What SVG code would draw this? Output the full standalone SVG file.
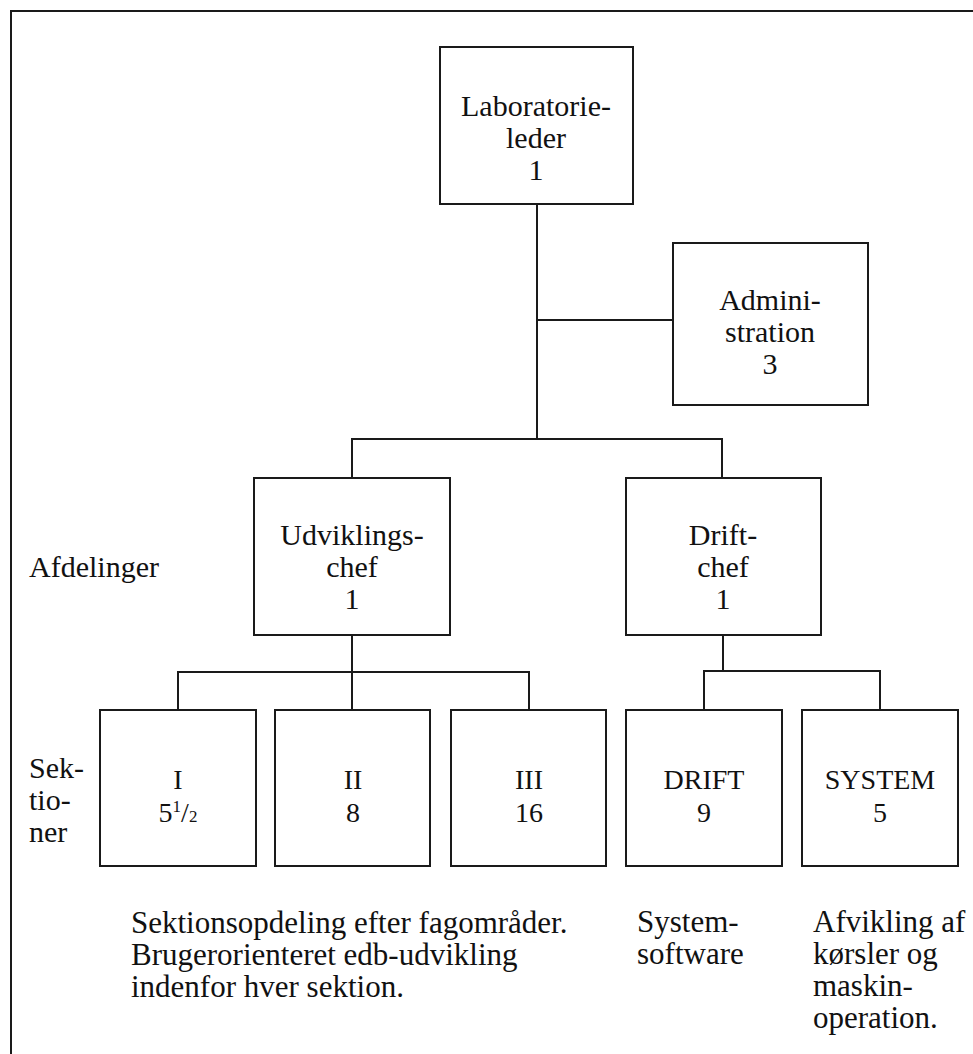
<svg xmlns="http://www.w3.org/2000/svg" width="973" height="1054" viewBox="0 0 973 1054">
<style>
  .frame { fill: none; stroke: #1a1a1a; stroke-width: 2; }
  .box { fill: #ffffff; stroke: #1a1a1a; stroke-width: 2; }
  .line { fill: none; stroke: #1a1a1a; stroke-width: 2; }
  text { font-family: "Liberation Serif", "Times New Roman", serif; fill: #111111; }
  .t { font-size: 30px; text-anchor: middle; }
  .c { font-size: 28px; text-anchor: middle; }
  .l { font-size: 30px; }
  .n { font-size: 31px; }
</style>
<rect width="973" height="1054" fill="#ffffff"/>
<path class="frame" d="M 11 1054 L 11 11 L 973 11"/>

<g id="connectors">
  <path class="line" d="M 537 204 L 537 439"/>
  <path class="line" d="M 537 320 L 673 320"/>
  <path class="line" d="M 352 478 L 352 439 L 722 439 L 722 478"/>
  <path class="line" d="M 352 635 L 352 710"/>
  <path class="line" d="M 178 710 L 178 672 L 529 672 L 529 710"/>
  <path class="line" d="M 723 635 L 723 671"/>
  <path class="line" d="M 704 710 L 704 671 L 880 671 L 880 710"/>
</g>

<g id="laboratorieleder">
  <rect class="box" x="440" y="47" width="193" height="157"/>
  <text class="t" x="536" y="116">Laboratorie-</text>
  <text class="t" x="536" y="148">leder</text>
  <text class="t" x="536" y="180">1</text>
</g>

<g id="administration">
  <rect class="box" x="673" y="243" width="195" height="162"/>
  <text class="t" x="770" y="310">Admini-</text>
  <text class="t" x="770" y="342">stration</text>
  <text class="t" x="770" y="374">3</text>
</g>

<g id="udviklingschef">
  <rect class="box" x="254" y="478" width="196" height="157"/>
  <text class="t" x="352" y="545">Udviklings-</text>
  <text class="t" x="352" y="577">chef</text>
  <text class="t" x="352" y="609">1</text>
</g>

<g id="driftchef">
  <rect class="box" x="626" y="478" width="195" height="157"/>
  <text class="t" x="723" y="545">Drift-</text>
  <text class="t" x="723" y="577">chef</text>
  <text class="t" x="723" y="609">1</text>
</g>

<g id="label-afdelinger">
  <text class="l" x="29" y="577">Afdelinger</text>
</g>

<g id="label-sektioner">
  <text class="l" x="29" y="778">Sek-</text>
  <text class="l" x="29" y="810">tio-</text>
  <text class="l" x="29" y="842">ner</text>
</g>

<g id="sektion-I">
  <rect class="box" x="100" y="710" width="156" height="156"/>
  <text class="c" x="178" y="789">I</text>
  <text class="c" x="178" y="822">5<tspan font-size="17" dy="-10">1</tspan><tspan dy="10">/</tspan><tspan font-size="17">2</tspan></text>
</g>

<g id="sektion-II">
  <rect class="box" x="275" y="710" width="155" height="156"/>
  <text class="c" x="353" y="789">II</text>
  <text class="c" x="353" y="822">8</text>
</g>

<g id="sektion-III">
  <rect class="box" x="451" y="710" width="155" height="156"/>
  <text class="c" x="529" y="789">III</text>
  <text class="c" x="529" y="822">16</text>
</g>

<g id="sektion-drift">
  <rect class="box" x="626" y="710" width="156" height="156"/>
  <text class="c" x="704" y="789">DRIFT</text>
  <text class="c" x="704" y="822">9</text>
</g>

<g id="sektion-system">
  <rect class="box" x="802" y="710" width="156" height="156"/>
  <text class="c" x="880" y="789">SYSTEM</text>
  <text class="c" x="880" y="822">5</text>
</g>

<g id="note-udvikling">
  <text class="n" x="131" y="933">Sektionsopdeling efter fagområder.</text>
  <text class="n" x="131" y="965">Brugerorienteret edb-udvikling</text>
  <text class="n" x="131" y="997">indenfor hver sektion.</text>
</g>

<g id="note-drift">
  <text class="n" x="637" y="932">System-</text>
  <text class="n" x="637" y="964">software</text>
</g>

<g id="note-system">
  <text class="n" x="813" y="932">Afvikling af</text>
  <text class="n" x="813" y="964">kørsler og</text>
  <text class="n" x="813" y="996">maskin-</text>
  <text class="n" x="813" y="1028">operation.</text>
</g>
</svg>
